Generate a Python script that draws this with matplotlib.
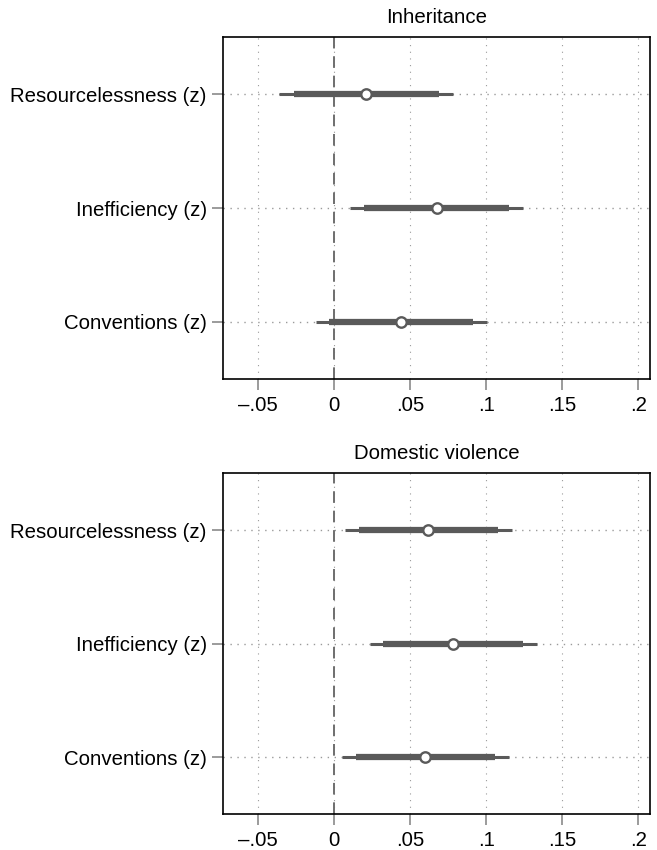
import matplotlib.pyplot as plt
import numpy as np

plt.rcParams["font.family"] = ["Liberation Sans", "DejaVu Sans"]

variables = ["Resourcelessness (z)", "Inefficiency (z)", "Conventions (z)"]
panels = ["Inheritance", "Domestic violence"]

# point estimates, 90% CI (thick) and 95% CI (thin), per panel
coef = {
    "Inheritance":       [0.0209, 0.0673, 0.0439],
    "Domestic violence": [0.0619, 0.0783, 0.0599],
}
ci90_lo = {
    "Inheritance":       [-0.0265, 0.0195, -0.0033],
    "Domestic violence": [0.0162, 0.0322, 0.0141],
}
ci90_hi = {
    "Inheritance":       [0.0689, 0.1147, 0.0914],
    "Domestic violence": [0.1079, 0.1243, 0.1059],
}
ci95_lo = {
    "Inheritance":       [-0.0362, 0.0103, -0.0122],
    "Domestic violence": [0.0072, 0.0235, 0.0053],
}
ci95_hi = {
    "Inheritance":       [0.0783, 0.1239, 0.1003],
    "Domestic violence": [0.1167, 0.1332, 0.1151],
}

xticks = [-0.05, 0, 0.05, 0.1, 0.15, 0.2]
xticklabels = ["\u2013.05", "0", ".05", ".1", ".15", ".2"]

COL = "#5a5a5a"
W, H = 657, 850
fig = plt.figure(figsize=(W / 100, H / 100), dpi=100)

boxes = [(223.3, 37, 650, 379), (223.3, 473.3, 650, 814)]

for name, (x0, y0, x1, y1) in zip(panels, boxes):
    ax = fig.add_axes([x0 / W, 1 - y1 / H, (x1 - x0) / W, (y1 - y0) / H])
    y = np.arange(1, len(variables) + 1)

    for xt in xticks:
        ax.axvline(xt, color="#9a9a9a", lw=0.8, ls=(0, (1, 5)), zorder=0)
    for yy in y:
        ax.axhline(yy, color="#9a9a9a", lw=1.0, ls=(0, (1, 4)), zorder=0)
    ax.axvline(0, color="#6e6e6e", lw=1.4, ls=(0, (6, 4)), zorder=1)

    ax.hlines(y, ci95_lo[name], ci95_hi[name], color=COL, lw=2.2, zorder=2)
    ax.hlines(y, ci90_lo[name], ci90_hi[name], color=COL, lw=4.5, zorder=3)
    ax.plot(coef[name], y, "o", ms=7.5, mfc="white", mec=COL, mew=1.7, zorder=4)

    ax.set_xlim(-0.073, 0.2077)
    ax.set_ylim(3.5, 0.5)
    ax.set_xticks(xticks)
    ax.set_xticklabels(xticklabels, fontsize=14.7)
    ax.set_yticks(y)
    ax.set_yticklabels(variables, fontsize=14.7)
    ax.tick_params(axis="both", color="#8a8a8a", length=8, width=1.2, pad=4)
    for sp in ax.spines.values():
        sp.set_color("black")
        sp.set_linewidth(1.2)
    ax.set_title(name, fontsize=14.7, pad=10)

fig.savefig("out.png", dpi=100)
